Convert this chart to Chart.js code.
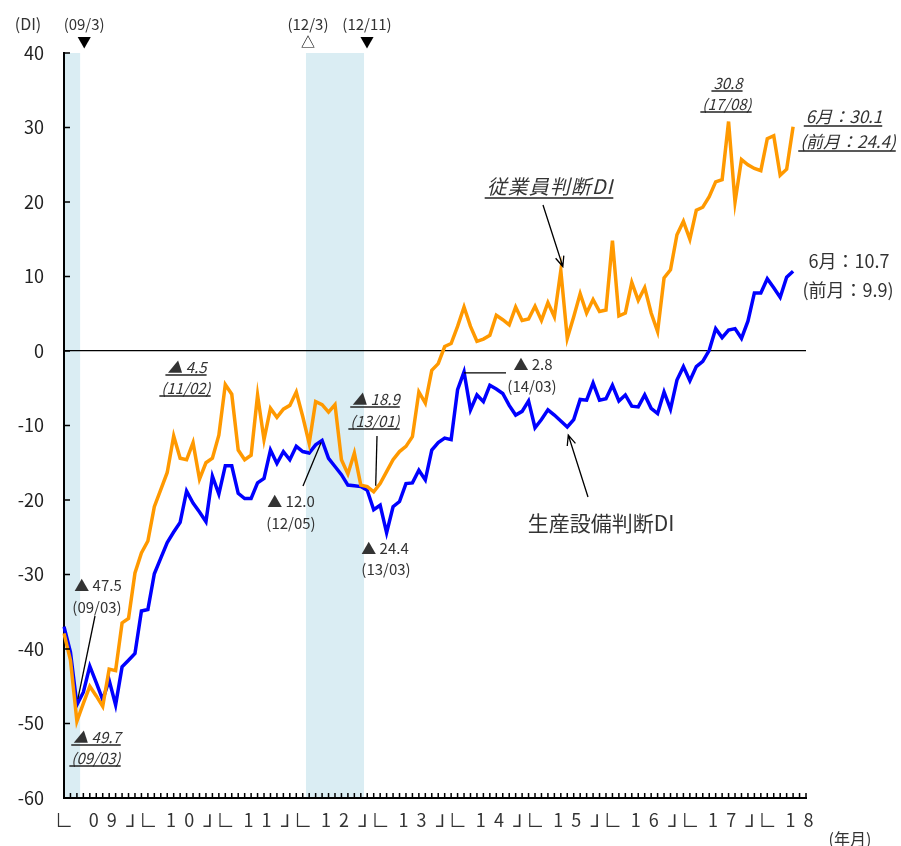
<!DOCTYPE html>
<html lang="ja">
<head>
<meta charset="utf-8">
<title>従業員判断DI・生産設備判断DI</title>
<script src="https://cdn.jsdelivr.net/npm/chart.js@4.4.1/dist/chart.umd.min.js"></script>
<style>
  html, body { margin: 0; padding: 0; background: #fff; }
  #wrap { width: 901px; height: 846px; }
</style>
</head>
<body>
<div id="wrap"><canvas id="diChart" width="901" height="846"></canvas></div>
<script>
// months 2009/01 .. 2018/08 (last two left empty)
const startYear = 2009;
const monthCount = 116;
const months = [];
for (let i = 0; i < monthCount; i++) {
  const y = startYear + Math.floor(i / 12);
  const m = (i % 12) + 1;
  months.push(y + "/" + String(m).padStart(2, "0"));
}

const yearLabels = ["09", "10", "11", "12", "13", "14", "15", "16", "17", "18"];

// 従業員判断DI (orange)
const employmentDI = [
  -37.9, -41.5, -49.7, -47.3, -45.0, -46.3, -47.7, -42.7, -42.9, -36.5, -35.9, -29.8,
  -27.1, -25.5, -20.9, -18.6, -16.3, -11.4, -14.4, -14.6, -12.3, -17.2, -15.0, -14.4,
  -11.3, -4.5, -5.8, -13.3, -14.6, -14.0, -5.9, -11.9, -7.7, -8.9, -7.8, -7.3,
  -5.5, -8.8, -12.4, -6.8, -7.2, -8.2, -7.2, -14.6, -16.5, -13.7, -18.0, -18.2,
  -18.9, -17.8, -16.2, -14.6, -13.5, -12.8, -11.5, -5.5, -7.0, -2.6, -1.7, 0.6,
  1.0, 3.3, 5.9, 3.3, 1.3, 1.6, 2.1, 4.8, 4.2, 3.5, 5.9, 4.1,
  4.3, 6.0, 4.1, 6.5, 4.6, 10.8, 1.7, 4.6, 7.7, 5.1, 6.9, 5.3,
  5.5, 14.8, 4.7, 5.1, 9.2, 6.8, 8.5, 5.1, 2.6, 9.8, 10.9, 15.6,
  17.4, 15.0, 18.9, 19.3, 20.7, 22.7, 23.0, 30.8, 20.0, 25.7, 25.0, 24.5,
  24.2, 28.5, 28.9, 23.6, 24.4, 30.1
];

// 生産設備判断DI (blue)
const equipmentDI = [
  -37.0, -40.4, -47.5, -45.8, -42.3, -44.5, -46.8, -44.2, -47.5, -42.4, -41.5, -40.6,
  -34.9, -34.7, -29.9, -27.8, -25.7, -24.3, -23.0, -18.8, -20.4, -21.6, -22.9, -16.8,
  -19.2, -15.4, -15.4, -19.1, -19.8, -19.8, -17.7, -17.1, -13.3, -15.1, -13.5, -14.6,
  -12.8, -13.5, -13.7, -12.6, -12.0, -14.4, -15.5, -16.6, -18.0, -18.1, -18.2, -18.7,
  -21.3, -20.7, -24.4, -20.9, -20.2, -17.8, -17.7, -16.0, -17.3, -13.3, -12.3, -11.7,
  -11.9, -5.2, -2.8, -7.9, -5.9, -6.8, -4.6, -5.1, -5.7, -7.3, -8.6, -8.1,
  -6.7, -10.3, -9.2, -7.9, -8.6, -9.4, -10.2, -9.2, -6.5, -6.6, -4.3, -6.6,
  -6.4, -4.6, -6.7, -5.9, -7.4, -7.5, -5.9, -7.7, -8.4, -5.5, -7.8, -3.9,
  -2.1, -4.0, -2.1, -1.4, 0.1, 3.0, 1.8, 2.8, 3.0, 1.7, 4.0, 7.8,
  7.8, 9.7, 8.5, 7.2, 9.9, 10.7
];

const yMin = -60, yMax = 40, yStep = 10;

// recession shading (peak -> trough)
const recessions = [["2009/01", "2009/03"], ["2012/03", "2012/11"]];
const turningPoints = [
  { text: "(09/3)", month: "2009/03", mark: "▼" },
  { text: "(12/3)", month: "2012/03", mark: "△" },
  { text: "(12/11)", month: "2012/11", mark: "▼" },
];

const FONT = '"Noto Sans CJK JP", "Noto Sans", sans-serif';
const TEXT = "#333";
Chart.defaults.font.family = FONT;

const idx = (m) => months.indexOf(m);

const xTickLabel = function (i) {
  const m = i % 12;
  const yr = Math.floor(i / 12);
  if (m === 0) return i === 0 ? "∟" : "⅃ ∟";
  if (m === 6 && yearLabels[yr]) return yearLabels[yr].split("").join("  ");
  return "";
};

const drawText = function (ctx, s, x, y, o = {}) {
  ctx.save();
  ctx.font = (o.italic ? "italic " : "") + (o.bold ? "bold " : "") + (o.size || 15) + "px " + FONT;
  ctx.fillStyle = o.color || TEXT;
  ctx.textAlign = "center";
  ctx.textBaseline = "middle";
  if (o.spacing) ctx.letterSpacing = o.spacing + "px";
  ctx.fillText(s, x, y);
  if (o.underline) {
    const w = ctx.measureText(s).width;
    ctx.strokeStyle = "#222";
    ctx.lineWidth = 1.5;
    ctx.beginPath();
    ctx.moveTo(x - w / 2 - 2, y + o.underline);
    ctx.lineTo(x + w / 2, y + o.underline);
    ctx.stroke();
  }
  ctx.restore();
};

const drawLine = function (ctx, x1, y1, x2, y2, arrow) {
  ctx.save();
  ctx.strokeStyle = "#000";
  ctx.lineWidth = 1.3;
  ctx.beginPath();
  ctx.moveTo(x1, y1);
  ctx.lineTo(x2, y2);
  if (arrow) {
    const a = Math.atan2(y2 - y1, x2 - x1);
    const L = 11;
    ctx.moveTo(x2 - L * Math.cos(a - 0.4), y2 - L * Math.sin(a - 0.4));
    ctx.lineTo(x2, y2);
    ctx.lineTo(x2 - L * Math.cos(a + 0.4), y2 - L * Math.sin(a + 0.4));
  }
  ctx.stroke();
  ctx.restore();
};

const recessionPlugin = {
  id: "recession",
  beforeDraw(chart) {
    const { ctx, chartArea, scales: { x } } = chart;
    const half = (x.getPixelForValue(1) - x.getPixelForValue(0)) / 2;
    ctx.save();
    ctx.fillStyle = "#daedf3";
    recessions.forEach(([from, to]) => {
      const l = Math.max(chartArea.left, x.getPixelForValue(idx(from)) - half);
      const r = x.getPixelForValue(idx(to)) + half;
      ctx.fillRect(l, chartArea.top, r - l, chartArea.bottom - chartArea.top);
    });
    ctx.restore();
  },
};

const annotationPlugin = {
  id: "notes",
  afterDraw(chart) {
    const { ctx, chartArea, scales: { x, y } } = chart;
    const px = (m) => x.getPixelForValue(m);
    const py = (v) => y.getPixelForValue(v);
    const half = (px(1) - px(0)) / 2;

    // inner ticks
    ctx.save();
    ctx.strokeStyle = "#000";
    ctx.lineWidth = 1.5;
    ctx.beginPath();
    for (let v = yMin; v <= yMax; v += yStep) {
      ctx.moveTo(chartArea.left, py(v));
      ctx.lineTo(chartArea.left + 6, py(v));
    }
    for (let i = 0; i < monthCount; i++) {
      ctx.moveTo(px(i), chartArea.bottom);
      ctx.lineTo(px(i), chartArea.bottom - 5);
    }
    ctx.stroke();
    ctx.restore();

    // axis captions
    drawText(ctx, "(DI)", 28, 24, { size: 16 });
    drawText(ctx, "(年月)", 850, 839, { size: 16 });

    // turning points
    turningPoints.forEach((t, k) => {
      const i = idx(t.month);
      const xm = k === 1 ? px(i) - half + 2 : px(i) + half + (k === 0 ? 4 : 3);
      drawText(ctx, t.text, xm, 24, { size: 15 });
      drawText(ctx, t.mark, xm, 42, { size: 14, color: "#000" });
    });

    // lows / highs
    drawText(ctx, "▲ 47.5", 98, 585);
    drawText(ctx, "(09/03)", 97, 607);
    drawLine(ctx, 95, 616, px(2) + 1, py(equipmentDI[2]) - 6);

    drawText(ctx, "▲ 49.7", 97, 737, { italic: true, underline: 8 });
    drawText(ctx, "(09/03)", 96, 758, { italic: true, underline: 8 });

    drawText(ctx, "▲ 4.5", 187, 367, { italic: true, underline: 8 });
    drawText(ctx, "(11/02)", 186, 388, { italic: true, underline: 8 });

    drawText(ctx, "▲ 12.0", 291, 501);
    drawText(ctx, "(12/05)", 291, 523);
    drawLine(ctx, 303, 486, px(40) - 1, py(equipmentDI[40]) + 2);

    drawText(ctx, "▲ 18.9", 376, 399, { italic: true, underline: 8 });
    drawText(ctx, "(13/01)", 375, 421, { italic: true, underline: 8 });
    drawLine(ctx, 377, 436, px(48) + 2, py(employmentDI[48]) - 6);

    drawText(ctx, "▲ 24.4", 385, 548);
    drawText(ctx, "(13/03)", 386, 569);

    drawText(ctx, "▲ 2.8", 533, 364);
    drawText(ctx, "(14/03)", 532, 386);
    drawLine(ctx, px(62), py(equipmentDI[62]) + 1, 506, py(equipmentDI[62]) + 1);

    drawText(ctx, "30.8", 728, 83, { italic: true, underline: 8 });
    drawText(ctx, "(17/08)", 727, 104, { italic: true, underline: 8 });

    drawText(ctx, "6月：30.1", 844, 117, { italic: true, underline: 9, size: 17 });
    drawText(ctx, "(前月：24.4)", 848, 142, { italic: true, underline: 9, size: 17 });

    drawText(ctx, "6月：10.7", 849, 261, { size: 18 });
    drawText(ctx, "(前月：9.9)", 848, 290, { size: 18 });

    // series captions
    drawText(ctx, "従業員判断DI", 550, 186, { italic: true, underline: 12, size: 20, spacing: 1 });
    drawLine(ctx, 543, 205, px(77) + 2, py(employmentDI[77]) - 4, true);

    drawText(ctx, "生産設備判断DI", 601, 523, { size: 21 });
    drawLine(ctx, 588, 497, px(78) + 1, py(equipmentDI[78]) + 8, true);
  },
};

const ctx = document.getElementById("diChart").getContext("2d");
new Chart(ctx, {
  type: "line",
  data: {
    labels: months,
    datasets: [
      {
        label: "従業員判断DI",
        data: employmentDI,
        borderColor: "#ff9900",
        borderWidth: 3.5,
        pointRadius: 0,
        tension: 0,
        fill: false,
      },
      {
        label: "生産設備判断DI",
        data: equipmentDI,
        borderColor: "#0000ff",
        borderWidth: 3.5,
        pointRadius: 0,
        tension: 0,
        fill: false,
      },
    ],
  },
  options: {
    responsive: false,
    animation: false,
    layout: { padding: { left: 0, right: 95, top: 53, bottom: 0 } },
    plugins: {
      legend: { display: false },
      tooltip: { enabled: false },
    },
    scales: {
      x: {
        type: "category",
        offset: false,
        grid: { display: false },
        border: { display: true, color: "#000", width: 2 },
        ticks: {
          autoSkip: false,
          maxRotation: 0,
          minRotation: 0,
          padding: 3,
          color: TEXT,
          font: { size: 18 },
          callback: (v, i) => xTickLabel(i),
        },
        afterFit: (s) => { s.height = 48; },
      },
      y: {
        min: yMin,
        max: yMax,
        ticks: { stepSize: yStep, padding: 20, color: "#222", font: { size: 18 } },
        grid: {
          drawTicks: false,
          color: (c) => (c.tick && c.tick.value === 0 ? "#000" : "rgba(0,0,0,0)"),
          lineWidth: 1.3,
        },
        border: { display: true, color: "#000", width: 2 },
        afterFit: (s) => { s.width = 64; },
      },
    },
  },
  plugins: [recessionPlugin, annotationPlugin],
});
</script>
</body>
</html>
